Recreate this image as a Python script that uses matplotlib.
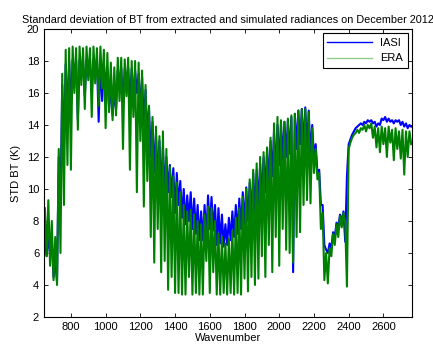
import numpy as np
import matplotlib.pyplot as plt

# wavenumber grid of the spectra (cm-1), one value every 10
wavenumber = np.arange(650, 2761, 10)

# IASI std of brightness temperature (K)
iasi_std = [
    6.9, 5.8, 7.1, 5.9, 6.5, 4.5, 5.5, 4.2, 12.0, 9.0,
    16.5, 12.5, 17.8, 14.5, 18.0, 15.0, 18.1, 17.2, 18.0, 14.3,
    18.1, 17.3, 18.0, 15.8, 18.1, 17.4, 18.0, 16.0, 18.1, 17.2,
    18.0, 14.2, 18.1, 15.5, 17.8, 16.5, 17.5, 15.0, 16.5, 14.6,
    16.0, 15.0, 17.4, 16.5, 17.6, 15.1, 17.5, 16.6, 17.6, 15.3,
    17.5, 15.5, 17.4, 16.0, 17.2, 15.0, 17.0, 14.0, 16.2, 13.5,
    15.0, 12.0, 14.2, 11.0, 13.5, 10.5, 13.0, 9.8, 12.6, 10.0,
    12.0, 9.8, 11.5, 9.5, 11.3, 8.5, 11.0, 9.0, 10.5, 8.2,
    10.0, 7.8, 9.6, 8.0, 9.8, 7.5, 9.4, 7.2, 9.0, 6.8,
    8.6, 6.8, 9.0, 7.0, 9.6, 7.5, 9.5, 7.4, 9.0, 6.5,
    8.8, 6.6, 8.4, 6.4, 7.8, 6.5, 8.2, 6.8, 8.6, 7.0,
    9.0, 7.2, 9.4, 7.5, 9.8, 7.8, 10.1, 8.0, 10.4, 8.3,
    11.0, 8.6, 11.2, 9.0, 11.6, 9.5, 12.0, 9.8, 12.5, 10.3,
    13.0, 10.8, 13.6, 11.0, 14.0, 11.5, 14.1, 11.8, 14.2, 12.0,
    14.3, 12.2, 14.5, 4.8, 14.7, 12.5, 14.9, 12.8, 15.0, 12.6,
    15.1, 12.5, 14.9, 12.0, 14.0, 12.0, 12.8, 11.0, 11.2, 9.0,
    9.0, 6.5, 6.2, 6.0, 6.6, 6.3, 7.3, 7.0, 7.9, 7.6,
    8.4, 8.0, 8.6, 6.7, 10.8, 12.8, 13.1, 13.4, 13.6, 13.8,
    13.9, 14.0, 14.1, 14.0, 14.2, 14.1, 14.3, 14.2, 14.3, 14.1,
    14.2, 13.9, 14.1, 14.0, 14.4, 14.3, 14.5, 14.2, 14.4, 14.2,
    14.3, 14.1, 14.3, 14.2, 14.3, 14.0, 14.2, 13.9, 14.1, 13.8,
    14.0, 13.9,
]

# ERA simulated std of brightness temperature (K)
era_std = [
    8.8, 5.8, 9.3, 5.2, 8.0, 4.3, 7.0, 4.0, 12.5, 6.0,
    17.2, 9.0, 18.7, 11.5, 18.8, 11.2, 18.9, 16.0, 18.8, 13.7,
    18.9, 16.5, 18.8, 15.0, 18.9, 16.8, 18.8, 14.5, 18.9, 16.6,
    18.8, 15.2, 18.9, 16.3, 18.7, 13.8, 18.5, 14.8, 17.9, 14.3,
    17.6, 14.6, 18.2, 15.5, 18.2, 12.5, 18.1, 15.8, 18.2, 11.2,
    18.0, 14.5, 18.0, 9.8, 17.9, 13.0, 17.4, 8.9, 16.5, 10.5,
    15.2, 7.0, 14.5, 5.4, 13.9, 7.5, 13.3, 4.8, 13.6, 5.5,
    12.5, 3.7, 11.4, 4.5, 10.8, 3.5, 10.4, 3.5, 9.8, 3.4,
    9.0, 3.4, 8.6, 4.5, 8.7, 3.4, 8.4, 3.5, 8.0, 3.4,
    7.8, 3.4, 8.4, 5.5, 8.9, 3.5, 8.8, 4.8, 8.0, 3.4,
    7.2, 3.4, 7.0, 3.5, 6.6, 3.4, 6.9, 3.5, 7.4, 3.4,
    8.2, 3.5, 8.8, 3.4, 9.5, 4.4, 10.0, 3.6, 10.6, 4.5,
    11.2, 4.0, 11.6, 4.4, 12.0, 5.8, 12.3, 4.5, 12.6, 6.5,
    13.2, 4.8, 14.1, 7.0, 14.5, 5.2, 14.3, 7.5, 14.2, 6.2,
    14.4, 6.0, 14.6, 5.4, 14.7, 7.0, 14.9, 7.3, 15.0, 9.0,
    15.0, 9.3, 14.8, 9.1, 13.8, 11.0, 12.5, 10.6, 11.0, 7.5,
    8.5, 4.3, 6.0, 4.1, 6.3, 5.8, 7.2, 6.5, 7.8, 7.0,
    8.3, 7.6, 8.5, 7.9, 3.9, 12.5, 12.9, 13.2, 13.4, 13.5,
    13.7, 13.5, 13.8, 13.7, 14.0, 13.6, 14.0, 13.8, 14.1, 13.2,
    13.9, 12.6, 13.8, 12.3, 13.9, 12.8, 13.8, 12.0, 13.9, 12.9,
    13.7, 11.8, 13.8, 12.5, 13.6, 11.9, 13.7, 10.9, 13.6, 12.0,
    13.6, 12.8,
]

fig = plt.figure(figsize=(4.33, 3.47), dpi=100)
plt.rcParams['font.family'] = ['Liberation Sans', 'DejaVu Sans']
ax = fig.add_axes([0.1016, 0.0865, 0.85, 0.83])

# thick lines so the zigzags merge like the dense spectra
ax.plot(wavenumber, iasi_std, color=(0, 0, 1), lw=1.5, label='IASI')
ax.plot(wavenumber, era_std, color=(0, 0.5, 0), lw=1.5, label='ERA')

ax.set_xlim(645, 2765)
ax.set_ylim(2, 20)
ax.set_xticks(np.arange(800, 2601, 200))
ax.set_yticks(np.arange(2, 21, 2))
ax.tick_params(direction='in', top=True, right=True, labelsize=8, length=3, width=0.6)
for s in ax.spines.values():
    s.set_linewidth(0.8)

ax.set_title('Standard deviation of BT from extracted and simulated radiances on December 2012',
             fontsize=7.8, pad=4)
ax.set_xlabel('Wavenumber', fontsize=8, labelpad=1)
ax.set_ylabel('STD BT (K)', fontsize=8, labelpad=4)

leg = ax.legend(loc='upper right', fontsize=8, fancybox=False, framealpha=1,
                edgecolor='black', handlelength=4, borderaxespad=0.4)
leg.get_frame().set_linewidth(0.8)
for line in leg.get_lines():
    line.set_linewidth(1.0)
leg.get_lines()[1].set_color((0.55, 0.8, 0.55))

fig.savefig('out.png', dpi=100)
